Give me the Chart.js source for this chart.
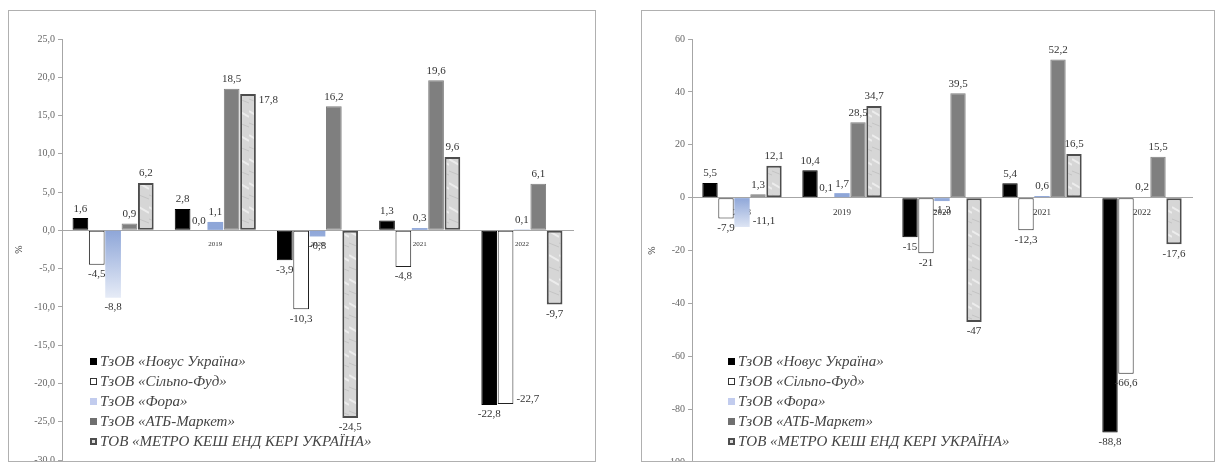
<!DOCTYPE html>
<html>
<head>
<meta charset="utf-8">
<script src="https://cdn.jsdelivr.net/npm/chart.js@4/dist/chart.umd.min.js"></script>
<style>
  body { margin: 0; background: #fff; width: 1218px; height: 466px; position: relative; overflow: hidden; }
  .panel { position: absolute; top: 10px; height: 450px; border: 1px solid #b0b0b0; background: #fff; overflow: hidden; }
  #p1 { left: 8px; width: 586px; }
  #p2 { left: 641px; width: 572px; }
  .legend { position: absolute; font: italic 15px "Liberation Serif", "DejaVu Serif", serif; color: #444; line-height: 20px; }
  .legend div { white-space: nowrap; }
  .legend span { display: inline-block; width: 7px; height: 7px; margin-right: 3px; box-sizing: border-box; vertical-align: 1px; }
</style>
</head>
<body>
<div class="panel" id="p1"><canvas id="c1" width="586" height="458"></canvas></div>
<div class="panel" id="p2"><canvas id="c2" width="572" height="460"></canvas></div>
<script>
// categories
var years = ["2018", "2019", "2020", "2021", "2022"];

// series names
var names = [
  "ТзОВ «Новус Україна»",
  "ТзОВ «Сільпо-Фуд»",
  "ТзОВ «Фора»",
  "ТзОВ «АТБ-Маркет»",
  "ТОВ «МЕТРО КЕШ ЕНД КЕРІ УКРАЇНА»"
];

// left chart, %
var novusL = [1.6, 2.8, -3.9, 1.3, -22.8];
var silpoL = [-4.5, 0.0, -10.3, -4.8, -22.7];
var foraL  = [-8.8, 1.1, -0.8, 0.3, 0.1];
var atbL   = [0.9, 18.5, 16.2, 19.6, 6.1];
var metroL = [6.2, 17.8, -24.5, 9.6, -9.7];

// right chart, %
var novusR = [5.5, 10.4, -15, 5.4, -88.8];
var silpoR = [-7.9, 0.1, -21, -12.3, -66.6];
var foraR  = [-11.1, 1.7, -1.3, 0.6, 0.2];
var atbR   = [1.3, 28.5, 39.5, 52.2, 15.5];
var metroR = [12.1, 34.7, -47, 16.5, -17.6];

function marble() {
  var c = document.createElement("canvas");
  c.width = 10; c.height = 24;
  var g = c.getContext("2d");
  g.fillStyle = "#d6d6d6";
  g.fillRect(0, 0, 10, 24);
  g.strokeStyle = "#ececec";
  g.lineWidth = 2;
  g.beginPath(); g.moveTo(0, 4); g.lineTo(10, 10); g.stroke();
  g.strokeStyle = "#c4c4c4";
  g.lineWidth = 1;
  g.beginPath(); g.moveTo(0, 16); g.lineTo(10, 20); g.stroke();
  return g.createPattern(c, "repeat");
}

function foraFill(low) {
  return function (context) {
    var chart = context.chart;
    var y = chart.scales.y;
    if (!y || !chart.chartArea) return "#a9badf";
    var y0 = y.getPixelForValue(0);
    var grad = chart.ctx.createLinearGradient(0, y0, 0, y.getPixelForValue(low));
    grad.addColorStop(0, "#8ea6d8");
    grad.addColorStop(1, "#f2f5fb");
    return grad;
  };
}

// value labels at the bar ends; a label that would hit an earlier one
// in the same year goes to the right of its bar instead
var valueLabels = {
  id: "valueLabels",
  afterDatasetsDraw: function (chart, args, opts) {
    var ctx = chart.ctx;
    ctx.save();
    ctx.font = opts.font;
    ctx.fillStyle = "#333";
    var h = 11;
    chart.data.labels.forEach(function (lab, j) {
      var placed = [];
      chart.data.datasets.forEach(function (ds, i) {
        var el = chart.getDatasetMeta(i).data[j];
        var v = ds.data[j];
        var txt = opts.fmt(v);
        var w = ctx.measureText(txt).width;
        var top = v >= 0 ? el.y - 4 - h : el.y + 4;
        var box = { l: el.x - w / 2, r: el.x + w / 2, t: top, b: top + h };
        var hit = placed.some(function (p) {
          return box.l < p.r && box.r > p.l && box.t < p.b && box.b > p.t;
        });
        if (hit) {
          var x = el.x + el.width / 2 + 3;
          var ty = v >= 0 ? el.y : el.y - h;
          box = { l: x, r: x + w, t: ty, b: ty + h };
          ctx.textAlign = "left";
          ctx.textBaseline = "top";
          ctx.fillText(txt, x, ty);
        } else {
          ctx.textAlign = "center";
          ctx.textBaseline = "top";
          ctx.fillText(txt, el.x, top);
        }
        placed.push(box);
      });
    });
    ctx.restore();
  }
};

function makeChart(id, series, yMin, yMax, step, tickFmt, labelFmt, foraLow, xFont, yAxisW) {
  var pat = marble();
  return new Chart(document.getElementById(id), {
    type: "bar",
    data: {
      labels: years,
      datasets: [
        { label: names[0], data: series[0], backgroundColor: "#000", borderColor: "#000", borderWidth: 1 },
        { label: names[1], data: series[1], backgroundColor: "#fff", borderColor: "#222", borderWidth: 1 },
        { label: names[2], data: series[2], backgroundColor: foraFill(foraLow), borderWidth: 0 },
        { label: names[3], data: series[3], backgroundColor: "#7f7f7f", borderColor: "#7f7f7f", borderWidth: 1 },
        { label: names[4], data: series[4], backgroundColor: pat, borderColor: "#4d4d4d", borderWidth: 2 }
      ]
    },
    options: {
      responsive: false,
      animation: false,
      layout: { padding: { left: 0, right: 22, top: 28, bottom: 0 } },
      datasets: { bar: { categoryPercentage: 0.8, barPercentage: 0.96, borderSkipped: false } },
      plugins: {
        legend: { display: false },
        tooltip: { enabled: false },
        valueLabels: { font: "11px 'Liberation Serif', serif", fmt: labelFmt }
      },
      scales: {
        x: {
          position: { y: 0 },
          z: 1,
          grid: { display: false },
          border: { color: "#a6a6a6" },
          ticks: { color: "#333", font: { family: "Liberation Serif", size: xFont }, padding: 2, maxRotation: 0 }
        },
        y: {
          min: yMin, max: yMax,
          afterFit: function (s) { s.width = yAxisW; },
          grid: { drawOnChartArea: false, tickLength: 4, color: "#a6a6a6" },
          border: { color: "#a6a6a6" },
          ticks: { stepSize: step, color: "#666", font: { family: "Liberation Serif", size: 10 }, callback: tickFmt },
          title: { display: true, text: "%", color: "#333", font: { family: "Liberation Serif", size: 10 } }
        }
      }
    },
    plugins: [valueLabels]
  });
}

var comma = function (s) { return String(s).replace(".", ","); };

makeChart("c1", [novusL, silpoL, foraL, atbL, metroL], -30, 25, 5,
  function (v) { return comma(v.toFixed(1)); },
  function (v) { return comma(v.toFixed(1)); }, -10, 7, 53);

makeChart("c2", [novusR, silpoR, foraR, atbR, metroR], -100, 60, 20,
  function (v) { return comma(v); },
  function (v) { return comma(v); }, -14, 9, 50);

// legends
function legend(panelId, left, top) {
  var marks = [
    "background:#000",
    "background:#fff;border:1px solid #333",
    "background:#c2ccee",
    "background:#6f6f6f",
    "background:#ddd;border:2px solid #4d4d4d"
  ];
  var box = document.createElement("div");
  box.className = "legend";
  box.style.left = left + "px";
  box.style.top = top + "px";
  names.forEach(function (n, i) {
    var row = document.createElement("div");
    var m = document.createElement("span");
    m.style.cssText = marks[i];
    row.appendChild(m);
    row.appendChild(document.createTextNode(n));
    box.appendChild(row);
  });
  document.getElementById(panelId).appendChild(box);
}
legend("p1", 81, 340);
legend("p2", 86, 340);
</script>
</body>
</html>
